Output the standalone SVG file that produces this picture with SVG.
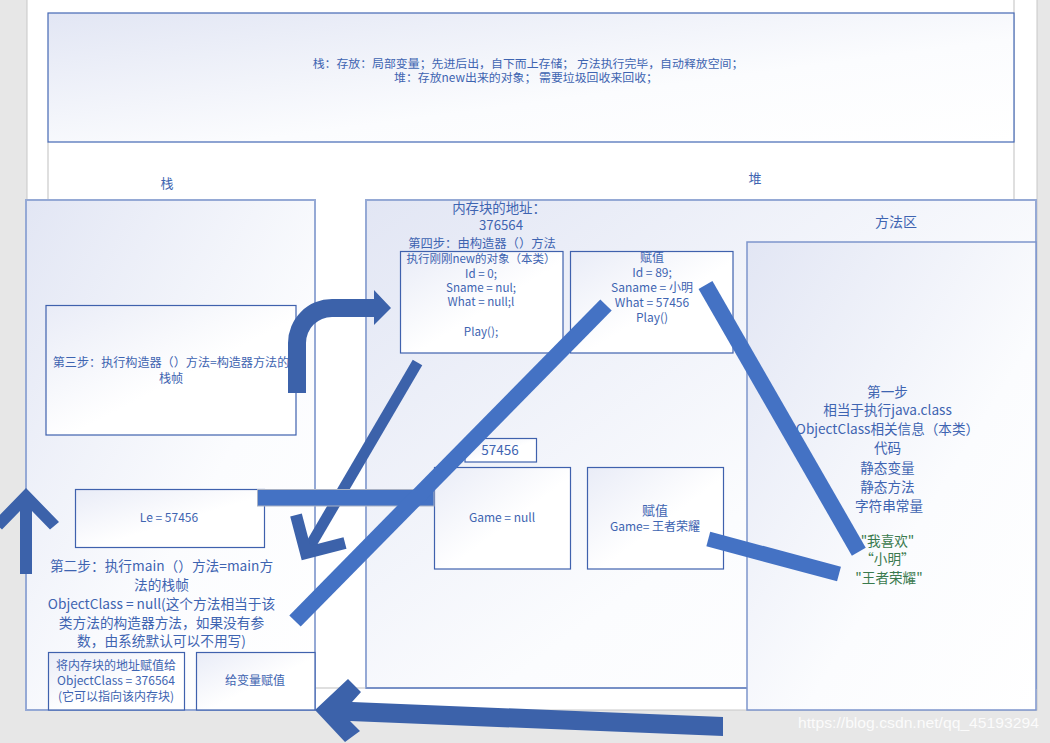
<svg xmlns="http://www.w3.org/2000/svg" width="1050" height="743" viewBox="0 0 1050 743">
<defs>
<linearGradient id="gf" x1="0" y1="0" x2="1" y2="1">
<stop offset="0" stop-color="#e2e6f4"/>
<stop offset="0.6" stop-color="#fbfcfe"/>
<stop offset="1" stop-color="#ffffff"/>
</linearGradient>
<linearGradient id="gs" x1="0" y1="0" x2="1" y2="1">
<stop offset="0" stop-color="#e9ecf7"/>
<stop offset="0.55" stop-color="#ffffff"/>
<stop offset="1" stop-color="#ffffff"/>
</linearGradient>
</defs>
<style>
text{font-family:'Noto Sans CJK SC','Noto Sans',sans-serif;fill:#3e64b1;text-anchor:middle}
.big{fill:url(#gf);stroke:#95a9d5;stroke-width:2}
.box{fill:url(#gs);stroke:#3f61ad;stroke-width:1.2}
.s11{font-size:11.6px}
.s12{font-size:12px}
.s13{font-size:13px}
.s14{font-size:14px}
.green{fill:#3a7a4e}
.dark{fill:#3c62aa}
.lt{stroke:#4472c4;fill:none}
</style>
<rect width="1050" height="743" fill="#e7e7e7"/>
<rect x="27" y="-1" width="1010" height="711" fill="#ffffff" stroke="#c8c8c8"/>
<path d="M48,142 V688 H1014 V0" fill="none" stroke="#bfbfbf"/>

<g id="top-note">
<rect x="48" y="13" width="966" height="129" fill="url(#gf)" stroke="#4468b4" stroke-width="1.2"/>
<text x="528" y="67.6" style="font-size:11.9px">栈：存放：局部变量；先进后出，自下而上存储； 方法执行完毕，自动释放空间；</text>
<text x="526" y="81.6" style="font-size:11.9px">堆：存放new出来的对象； 需要垃圾回收来回收；</text>
</g>

<g id="labels">
<text x="167" y="187.8" class="s13">栈</text>
<text x="755" y="182.8" class="s13">堆</text>
</g>

<g id="stack">
<rect x="26" y="200" width="289" height="510" class="big"/>
</g>

<g id="step3">
<rect x="46" y="305.5" width="250" height="129.5" class="box"/>
<text x="171" y="367" style="font-size:12.1px">第三步：执行构造器（）方法=构造器方法的</text>
<text x="171" y="383" style="font-size:12.1px">栈帧</text>
</g>

<g id="le">
<rect x="75.5" y="489.5" width="189" height="58" class="box"/>
<text x="169" y="522" class="s12">Le = 57456</text>
</g>

<g id="step2">
<text x="161.5" y="570.9" style="font-size:13.7px">第二步：执行main（）方法=main方</text>
<text x="161.5" y="589.5" style="font-size:13.7px">法的栈帧</text>
<text x="161.5" y="608.5" style="font-size:13.7px">ObjectClass = null(这个方法相当于该</text>
<text x="161.5" y="627.5" style="font-size:13.7px">类方法的构造器方法，如果没有参</text>
<text x="161.5" y="645.9" style="font-size:13.7px">数，由系统默认可以不用写)</text>
</g>

<g id="assign-address">
<rect x="48.5" y="652.5" width="136" height="57.5" class="box"/>
<text x="116" y="670.1" class="s12">将内存块的地址赋值给</text>
<text x="116" y="685.4" class="s12">ObjectClass = 376564</text>
<text x="116" y="701.1" class="s12">(它可以指向该内存块)</text>
</g>

<g id="assign-var">
<rect x="196.5" y="652.5" width="118.5" height="57.5" class="box"/>
<text x="255" y="685.4" class="s12">给变量赋值</text>
</g>

<g id="heap">
<rect x="366" y="200" width="670" height="488" class="big"/>
<line x1="366" y1="688" x2="747" y2="688" stroke="#5a78b8" stroke-width="1.2"/>
<text x="499" y="212.9" style="font-size:13.4px">内存块的地址：</text>
<text x="501" y="229.6" style="font-size:13.2px">376564</text>
<text x="482" y="247.9" style="font-size:12.3px">第四步：由构造器（）方法</text>
<text x="896" y="226.9" class="s14">方法区</text>
</g>

<g id="object-init">
<rect x="400.5" y="251.5" width="162.5" height="101.5" class="box"/>
<text x="481" y="263.4" style="font-size:11.5px">执行刚刚new的对象（本类）</text>
<text x="481" y="278.4" class="s11">Id = 0;</text>
<text x="481" y="292.4" class="s11">Sname = nul;</text>
<text x="481" y="306.4" class="s11">What = null;l</text>
<text x="481" y="336.4" class="s11">Play();</text>
</g>

<g id="object-assign">
<rect x="570.5" y="251.5" width="162.5" height="101.5" class="box"/>
<text x="652" y="262.4" class="s12">赋值</text>
<text x="652" y="277.4" class="s12">Id = 89;</text>
<text x="652" y="292.4" class="s12">Saname = 小明</text>
<text x="652" y="307.4" class="s12">What = 57456</text>
<text x="652" y="322.4" class="s12">Play()</text>
</g>

<g id="addr-57456">
<rect x="465" y="438.5" width="71.5" height="23.5" class="box"/>
<text x="500" y="455" style="font-size:13.5px">57456</text>
</g>

<g id="game-null">
<rect x="434.5" y="467.5" width="136" height="101.5" class="box"/>
<text x="502" y="522.4" class="s12">Game = null</text>
</g>

<g id="game-assign">
<rect x="587.5" y="467.5" width="136" height="101.5" class="box"/>
<text x="655" y="514.8" class="s13">赋值</text>
<text x="655" y="531.4" class="s12">Game= 王者荣耀</text>
</g>

<g id="method-area">
<rect x="747" y="242" width="289" height="468" fill="url(#gf)" stroke="#7d95cc" stroke-width="1.5"/>
<text x="889" style="font-size:13.6px">
<tspan x="889" y="396.7">第一步</tspan>
<tspan x="889" y="415">相当于执行java.class</tspan>
<tspan x="889" y="434.3">ObjectClass相关信息（本类）</tspan>
<tspan x="889" y="453.3">代码</tspan>
<tspan x="889" y="473">静态变量</tspan>
<tspan x="889" y="492.3">静态方法</tspan>
<tspan x="889" y="511">字符串常量</tspan>
</text>
<text x="889" class="green" style="font-size:13.6px">
<tspan x="889" y="545.7">"我喜欢"</tspan>
<tspan x="889" y="564.3">“小明”</tspan>
<tspan x="889" y="582.7">"王者荣耀"</tspan>
</text>
</g>

<g id="connectors">
<line x1="417.5" y1="362.5" x2="306" y2="553" stroke="#3c62aa" stroke-width="11"/>
<polyline points="296,515 306,553 345,543" fill="none" stroke="#3c62aa" stroke-width="12" stroke-linejoin="miter" stroke-miterlimit="10"/>
<rect x="257.5" y="489.5" width="176.5" height="16.5" fill="#4472c4" stroke="#aab2c4" stroke-width="1"/>
<line x1="606" y1="305" x2="295" y2="621" class="lt" stroke-width="16"/>
<line x1="705.5" y1="285" x2="858.8" y2="551.7" class="lt" stroke-width="16"/>
<line x1="708.3" y1="539" x2="839" y2="574" class="lt" stroke-width="15"/>
<path d="M288,393 V343 A44,44 0 0 1 332,299 H374 V290 L391,308 L374,325 V317 H332 A26,26 0 0 0 306,343 V393 Z" class="dark"/>
<path d="M26,488 L59,522 L50,529.5 L32,511 V574 H20 V511 L2,529.5 L-7,522 Z" class="dark"/>
<path d="M315,710 L348,679 L361,692 L352,702 L723,717 L723,736 L350,721 L360,731 L345,742 Z" class="dark"/>
</g>

<text x="1039" y="728" style="font-family:'Liberation Sans',sans-serif;font-size:14px;fill:#ffffff;fill-opacity:0.85;text-anchor:end" textLength="241" lengthAdjust="spacingAndGlyphs">https://blog.csdn.net/qq_45193294</text>
</svg>
